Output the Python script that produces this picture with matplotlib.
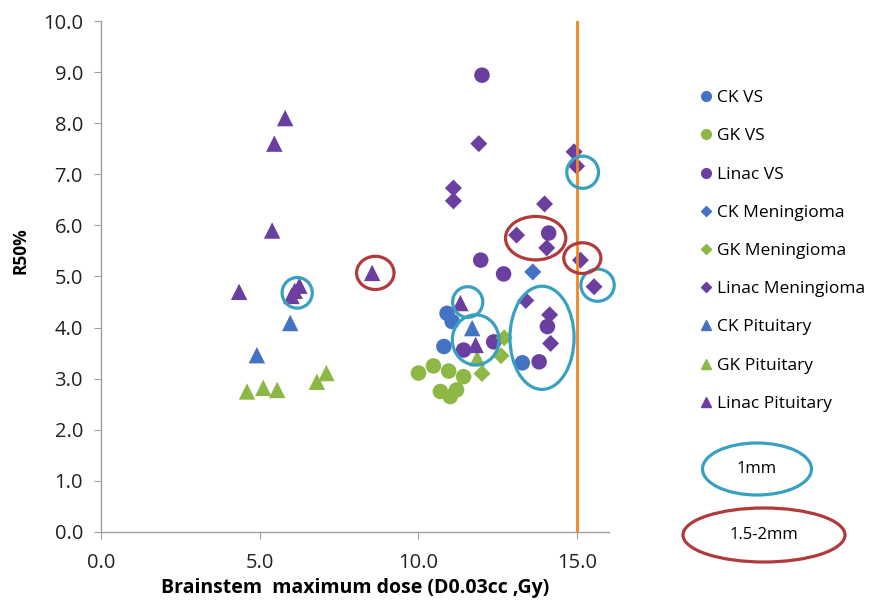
import matplotlib
matplotlib.use("Agg")
import matplotlib.pyplot as plt
from matplotlib.patches import Ellipse
from matplotlib.lines import Line2D

plt.rcParams['font.family'] = ['Open Sans', 'DejaVu Sans']

# ---- data ----
ck_vs_x = [10.9, 11.06, 10.8, 13.27]
ck_vs_y = [4.28, 4.12, 3.63, 3.31]
gk_vs_x = [10.0, 10.47, 10.95, 11.42, 10.69, 11.0, 11.2]
gk_vs_y = [3.11, 3.25, 3.15, 3.04, 2.75, 2.65, 2.78]
linac_vs_x = [12.0, 11.96, 12.68, 14.1, 14.06, 13.8, 12.37, 11.42]
linac_vs_y = [8.94, 5.32, 5.05, 5.85, 4.02, 3.33, 3.72, 3.56]
ck_men_x = [13.6]
ck_men_y = [5.09]
gk_men_x = [12.7, 12.6, 12.0]
gk_men_y = [3.8, 3.45, 3.1]
linac_men_x = [11.9, 11.1, 11.1, 13.97, 14.9, 14.98, 13.09, 14.04, 15.1, 15.53, 13.38, 14.13, 14.16]
linac_men_y = [7.6, 6.73, 6.48, 6.42, 7.44, 7.16, 5.81, 5.56, 5.32, 4.8, 4.53, 4.25, 3.69]
ck_pit_x = [5.96, 4.91, 11.69]
ck_pit_y = [4.09, 3.46, 3.99]
gk_pit_x = [4.6, 5.11, 5.55, 6.8, 7.1, 11.85]
gk_pit_y = [2.75, 2.82, 2.78, 2.94, 3.11, 3.4]
linac_pit_x = [4.35, 5.46, 5.8, 5.39, 6.0, 6.1, 6.25, 8.54, 11.32, 11.8]
linac_pit_y = [4.7, 7.6, 8.1, 5.9, 4.62, 4.72, 4.82, 5.07, 4.48, 3.66]

threshold_dose = 15.0

# annotation ellipses (center x, center y, width, height) in data units
blue_ellipses = [(6.18, 4.68, 0.95, 0.6), (11.55, 4.5, 0.95, 0.6),
                 (11.8, 3.76, 1.47, 0.98), (13.89, 3.8, 2.02, 2.02),
                 (15.17, 7.04, 1.0, 0.63), (15.64, 4.83, 1.05, 0.63)]
red_ellipses = [(8.64, 5.07, 1.18, 0.65), (13.69, 5.75, 1.9, 0.85),
                (15.16, 5.36, 1.17, 0.6)]

BLUE = '#4472C4'
GREEN = '#8DB845'
PURPLE = '#6B3FA0'
RING_BLUE = '#38A0C0'
RING_RED = '#B03A3C'

fig = plt.figure(figsize=(8.69, 6.07), dpi=100)
ax = fig.add_axes([0.1162, 0.1236, 0.5846, 0.8418])

series = [
    (ck_vs_x, ck_vs_y, 'o', BLUE, 'CK VS', 125),
    (gk_vs_x, gk_vs_y, 'o', GREEN, 'GK VS', 125),
    (linac_vs_x, linac_vs_y, 'o', PURPLE, 'Linac VS', 125),
    (ck_men_x, ck_men_y, 'D', BLUE, 'CK Meningioma', 75),
    (gk_men_x, gk_men_y, 'D', GREEN, 'GK Meningioma', 75),
    (linac_men_x, linac_men_y, 'D', PURPLE, 'Linac Meningioma', 75),
    (ck_pit_x, ck_pit_y, '^', BLUE, 'CK Pituitary', 140),
    (gk_pit_x, gk_pit_y, '^', GREEN, 'GK Pituitary', 140),
    (linac_pit_x, linac_pit_y, '^', PURPLE, 'Linac Pituitary', 140),
]
handles = []
for xs, ys, m, c, lab, s in series:
    ax.scatter(xs, ys, marker=m, s=s, color=c, edgecolors='none', zorder=3)
    handles.append(Line2D([], [], marker=m, color=c, linestyle='none',
                          markersize=7 if m != 'D' else 5.5, label=lab))

ax.axvline(threshold_dose, color='#F5841F', lw=2.0, zorder=4)

for cx, cy, w, h in blue_ellipses:
    ax.add_patch(Ellipse((cx, cy), w, h, fill=False, edgecolor=RING_BLUE,
                         lw=2.3, zorder=5, clip_on=False))
for cx, cy, w, h in red_ellipses:
    ax.add_patch(Ellipse((cx, cy), w, h, fill=False, edgecolor=RING_RED,
                         lw=2.3, zorder=5, clip_on=False))

ax.set_xlim(0, 16)
ax.set_ylim(0, 10)
ax.set_xticks([0, 5, 10, 15])
ax.set_xticklabels(['0.0', '5.0', '10.0', '15.0'])
ax.set_yticks(range(0, 11))
ax.set_yticklabels([f'{v:.1f}' for v in range(0, 11)])
for side in ['top', 'right']:
    ax.spines[side].set_visible(False)
for side in ['left', 'bottom']:
    ax.spines[side].set_color('#A0A0A0')
    ax.spines[side].set_linewidth(1.0)
ax.tick_params(axis='both', colors='#A0A0A0', labelcolor='#222222',
               labelsize=14.5, length=5)
ax.tick_params(axis='x', pad=10)
ax.tick_params(axis='y', pad=8)

ax.set_xlabel('Brainstem  maximum dose (D0.03cc ,Gy)', fontsize=14,
              fontweight='bold', labelpad=4)
ax.set_ylabel('R50%', fontsize=12.5, fontweight='bold')
ax.yaxis.set_label_coords(-0.14, 0.55)

fig.legend(handles=handles, loc='upper left', bbox_to_anchor=(0.793, 0.863),
           frameon=False, fontsize=12.5, labelspacing=1.27, handletextpad=0.1,
           handlelength=1.1, borderaxespad=0)

# annotation legend
fig.patches.append(Ellipse((757 / 869, 1 - 469 / 607), 109 / 869, 52 / 607,
                           transform=fig.transFigure, fill=False,
                           edgecolor=RING_BLUE, lw=2.3))
fig.text(757 / 869, 1 - 469 / 607, '1mm', ha='center', va='center', fontsize=12)
fig.patches.append(Ellipse((764 / 869, 1 - 535 / 607), 162 / 869, 54 / 607,
                           transform=fig.transFigure, fill=False,
                           edgecolor=RING_RED, lw=2.3))
fig.text(764 / 869, 1 - 535 / 607, '1.5-2mm', ha='center', va='center', fontsize=12)

fig.savefig('out.png', dpi=100)
